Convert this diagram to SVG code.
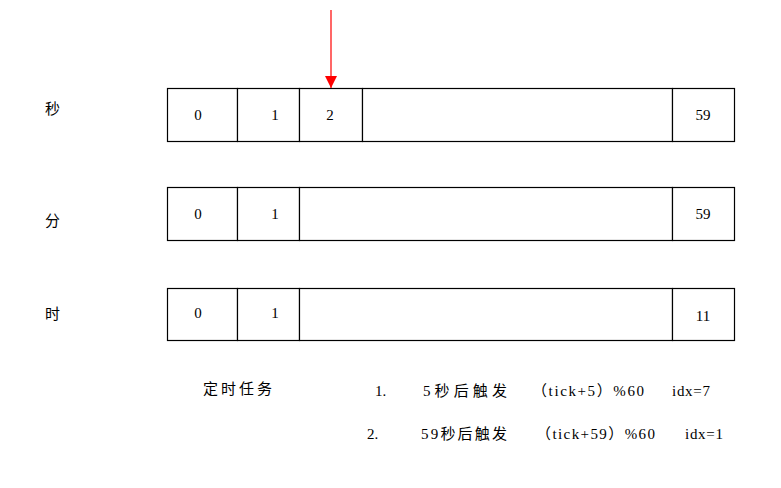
<svg xmlns="http://www.w3.org/2000/svg" width="781" height="488" viewBox="0 0 781 488">
<style>
.cell{fill:#fff;stroke:#000;stroke-width:1.2}
.t{font-family:"Liberation Serif","Noto Sans CJK SC",serif;font-size:15px;fill:#000;text-anchor:middle}
.l{font-family:"Liberation Serif","Noto Sans CJK SC",serif;font-size:15px;fill:#000}
.c{font-family:"Noto Sans CJK SC",sans-serif;font-size:15px;fill:#000}
</style>
<defs>
<marker id="ah" markerWidth="12" markerHeight="12" refX="12" refY="6" orient="auto" markerUnits="userSpaceOnUse">
<path d="M0,0 L12,6 L0,12 Z" fill="#f00"/>
</marker>
</defs>
<rect width="781" height="488" fill="#fff"/>
<g id="label-sec"><text class="c" x="45" y="114">秒</text></g>
<g id="label-min"><text class="c" x="45" y="226">分</text></g>
<g id="label-hour"><text class="c" x="45" y="319">时</text></g>
<g id="row-sec">
<rect class="cell" x="167.5" y="88.5" width="70" height="53"/>
<rect class="cell" x="237.5" y="88.5" width="62" height="53"/>
<rect class="cell" x="299.5" y="88.5" width="63" height="53"/>
<rect class="cell" x="362.5" y="88.5" width="310" height="53"/>
<rect class="cell" x="672.5" y="88.5" width="62" height="53"/>
<text class="t" x="198" y="120">0</text>
<text class="t" x="275" y="120">1</text>
<text class="t" x="330" y="120">2</text>
<text class="t" x="703" y="120">59</text>
</g>
<g id="row-min">
<rect class="cell" x="167.5" y="187.5" width="70" height="53"/>
<rect class="cell" x="237.5" y="187.5" width="62" height="53"/>
<rect class="cell" x="299.5" y="187.5" width="373" height="53"/>
<rect class="cell" x="672.5" y="187.5" width="62" height="53"/>
<text class="t" x="198" y="219">0</text>
<text class="t" x="275" y="219">1</text>
<text class="t" x="703" y="219">59</text>
</g>
<g id="row-hour">
<rect class="cell" x="167.5" y="288.5" width="70" height="52"/>
<rect class="cell" x="237.5" y="288.5" width="62" height="52"/>
<rect class="cell" x="299.5" y="288.5" width="373" height="52"/>
<rect class="cell" x="672.5" y="288.5" width="62" height="52"/>
<text class="t" x="198" y="318">0</text>
<text class="t" x="275" y="318">1</text>
<text class="t" x="703" y="321">11</text>
</g>
<g id="connectors">
<line x1="331" y1="10" x2="331" y2="88" stroke="#f00" stroke-width="1.2" marker-end="url(#ah)"/>
</g>
<g id="tasks">
<text class="c" x="203" y="394" textLength="69" lengthAdjust="spacing">定时任务</text>
<text class="l" x="375" y="396">1.</text>
<text class="l" x="423" y="396" textLength="84" lengthAdjust="spacing">5秒后触发</text>
<text class="l" x="532" y="396" textLength="112" lengthAdjust="spacing">（tick+5）%60</text>
<text class="l" x="672" y="396" textLength="38" lengthAdjust="spacing">idx=7</text>
<text class="l" x="367" y="439">2.</text>
<text class="l" x="421" y="439" textLength="86" lengthAdjust="spacing">59秒后触发</text>
<text class="l" x="536" y="439" textLength="119" lengthAdjust="spacing">（tick+59）%60</text>
<text class="l" x="685" y="439" textLength="38" lengthAdjust="spacing">idx=1</text>
</g>
</svg>
